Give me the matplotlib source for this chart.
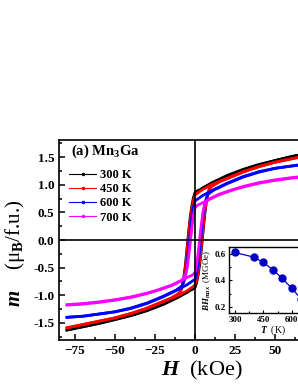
import matplotlib
matplotlib.use('Agg')
import matplotlib.pyplot as plt
from matplotlib.lines import Line2D
from matplotlib.ticker import MultipleLocator
import numpy as np

plt.rcParams['font.family'] = 'Liberation Serif'
plt.rcParams['font.weight'] = 'bold'
plt.rcParams['mathtext.fontset'] = 'custom'
plt.rcParams['mathtext.rm'] = 'Liberation Serif:bold'
plt.rcParams['mathtext.it'] = 'Liberation Serif:bold:italic'
plt.rcParams['mathtext.bf'] = 'Liberation Serif:bold'

# descending branch of each loop (field in kOe, m in muB/f.u.)
H = [80, 70, 60, 50, 40, 30, 20, 15, 10, 7, 5, 3, 2, 1, 0, -1, -2, -3, -4, -5, -6, -7, -8, -9,
     -10, -12, -15, -20, -25, -30, -40, -50, -60, -70, -80]
M_300 = [1.63, 1.57, 1.51, 1.44, 1.37, 1.28, 1.17, 1.10, 1.03, 0.98, 0.95, 0.91, 0.90, 0.88, 0.86,
         0.77, 0.62, 0.42, 0.15, -0.15, -0.45, -0.68, -0.84, -0.93, -0.98, -1.03, -1.08, -1.14,
         -1.20, -1.27, -1.36, -1.44, -1.51, -1.57, -1.63]
M_450 = [1.59, 1.53, 1.47, 1.41, 1.33, 1.24, 1.12, 1.06, 1.00, 0.95, 0.92, 0.88, 0.86, 0.84, 0.81,
         0.72, 0.57, 0.36, 0.10, -0.20, -0.50, -0.70, -0.84, -0.92, -0.96, -1.00, -1.05, -1.11,
         -1.17, -1.23, -1.33, -1.41, -1.47, -1.53, -1.59]
M_600 = [1.40, 1.38, 1.34, 1.30, 1.24, 1.15, 1.03, 0.96, 0.89, 0.84, 0.81, 0.77, 0.75, 0.73, 0.71,
         0.60, 0.42, 0.15, -0.15, -0.45, -0.65, -0.76, -0.82, -0.85, -0.87, -0.91, -0.95, -1.02,
         -1.08, -1.14, -1.23, -1.30, -1.34, -1.38, -1.40]
M_700 = [1.18, 1.16, 1.13, 1.09, 1.04, 0.97, 0.88, 0.83, 0.76, 0.71, 0.68, 0.65, 0.64, 0.62, 0.58,
         0.45, 0.22, -0.05, -0.30, -0.52, -0.63, -0.68, -0.72, -0.74, -0.75, -0.78, -0.82, -0.87,
         -0.92, -0.96, -1.03, -1.08, -1.12, -1.15, -1.17]

temps = ['300 K', '450 K', '600 K', '700 K']
colors = ['black', 'red', 'blue', 'magenta']
branches = [M_300, M_450, M_600, M_700]

# inset: energy product vs temperature
T_ins = [300, 400, 450, 500, 550, 600, 650]
BH_ins = [0.61, 0.575, 0.535, 0.48, 0.415, 0.34, 0.26]

fig = plt.figure(figsize=(2.98, 3.85), dpi=100)
ax = fig.add_axes([0.198, 0.117, 0.913, 0.519])

h = np.array(H)
for c, m in zip(colors, branches):
    m = np.array(m)
    ax.plot(h, m, color=c, lw=2.0)
    ax.plot(-h, -m, color=c, lw=2.0)

ax.axhline(0, color='black', lw=1.2)
ax.axvline(0, color='black', lw=1.2)

ax.set_xlim(-85, 85)
ax.set_ylim(-1.81, 1.81)
ax.xaxis.set_major_locator(MultipleLocator(25))
ax.xaxis.set_minor_locator(MultipleLocator(12.5))
ax.yaxis.set_major_locator(MultipleLocator(0.5))
ax.yaxis.set_minor_locator(MultipleLocator(0.25))
ax.tick_params(which='both', direction='in', labelsize=9.5, width=1.1)
ax.tick_params(which='major', length=4)
ax.tick_params(which='minor', length=2.5)
ax.yaxis.set_major_formatter(plt.FuncFormatter(lambda v, p: '%.1f' % v))
for s in ax.spines.values():
    s.set_linewidth(1.2)

ax.set_xlabel(r'$H$  (kOe)', fontsize=16)
ax.xaxis.set_label_coords(0.525, -0.095)
ax.set_ylabel(r'$m$    (μ$_{\rm B}$/f.u.)', fontsize=15)
ax.yaxis.set_label_coords(-0.118, 0.435)

ax.text(0.044, 0.925, r'(a) Mn$_3$Ga', transform=ax.transAxes, fontsize=10.5, va='baseline')

handles = [Line2D([], [], color=c, lw=0.8, marker='.', markersize=3) for c in colors]
ax.legend(handles, temps, loc='upper left', bbox_to_anchor=(-0.005, 0.912),
          frameon=False, fontsize=9, handlelength=2.2, handletextpad=0.3, labelspacing=0.18)

ins = fig.add_axes([0.768, 0.187, 0.294, 0.171])
ins.plot(T_ins, BH_ins, color='#0000c0', lw=0.9, marker='o', markersize=5)
ins.set_xlim(268, 730)
ins.set_ylim(0.155, 0.65)
ins.xaxis.set_major_locator(MultipleLocator(150))
ins.xaxis.set_minor_locator(MultipleLocator(75))
ins.yaxis.set_major_locator(MultipleLocator(0.2))
ins.yaxis.set_minor_locator(MultipleLocator(0.1))
ins.tick_params(which='both', direction='in', labelsize=6.5, width=0.8, pad=2)
ins.tick_params(which='major', length=2.5)
ins.tick_params(which='minor', length=1.5)
for s in ins.spines.values():
    s.set_linewidth(1.0)
ins.set_xlabel(r'$T$  (K)', fontsize=7, labelpad=0)
ins.set_ylabel(r'$BH_{max}$  (MGOe)', fontsize=6.5, labelpad=1)

fig.savefig('out.png', dpi=100)
